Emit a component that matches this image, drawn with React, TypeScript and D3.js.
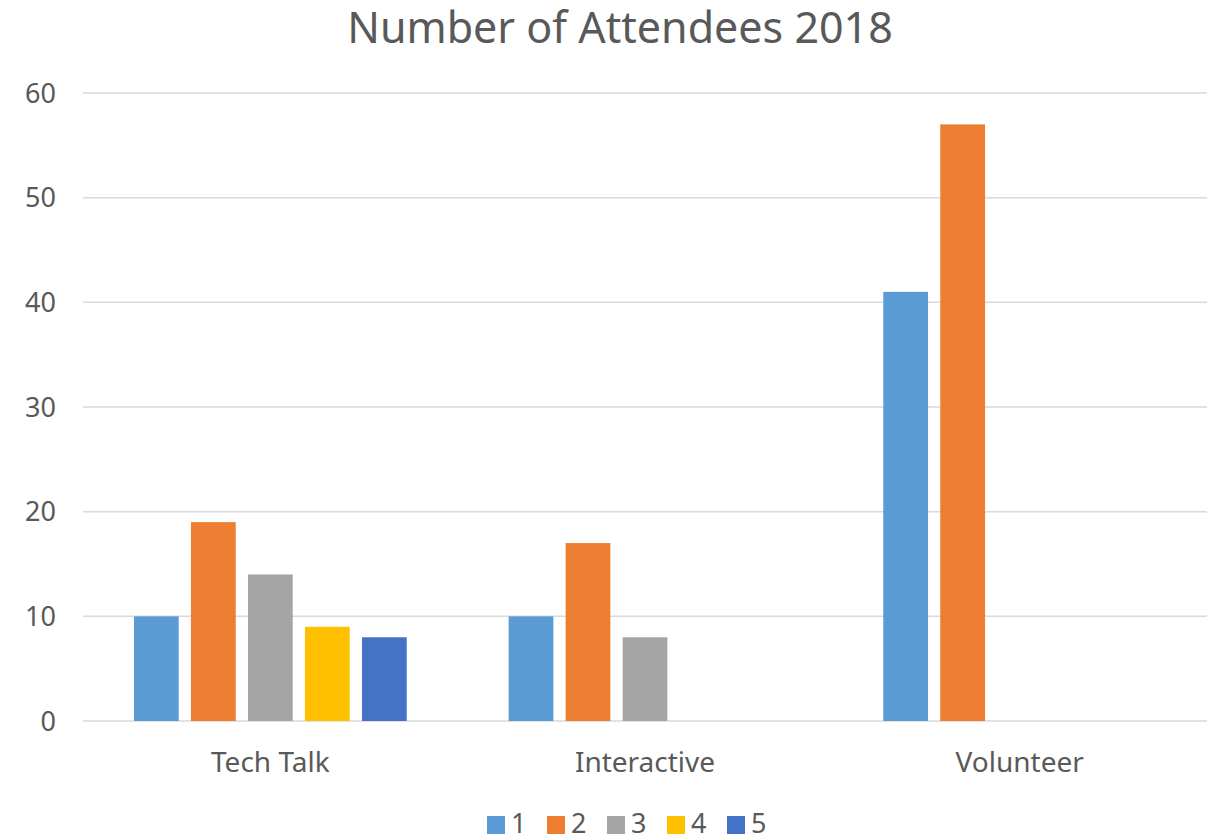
import { useMemo } from "react"
import * as d3 from "d3"

const categories = ["Tech Talk", "Interactive", "Volunteer"]
const seriesNames = ["1", "2", "3", "4", "5"]
// values per series, aligned with categories (null = no bar)
const series1 = [10, 10, 41]
const series2 = [19, 17, 57]
const series3 = [14, 8, null]
const series4 = [9, null, null]
const series5 = [8, null, null]
const yTicks = [0, 10, 20, 30, 40, 50, 60]
const colors = ["#5B9BD5", "#ED7D31", "#A5A5A5", "#FFC000", "#4472C4"]

const allSeries = [series1, series2, series3, series4, series5]

const W = 1215
const H = 836
const margin = { top: 93, right: 8, bottom: 115, left: 83 }
const font = "'Noto Sans', 'Open Sans', sans-serif"
const textColor = "#595959"

export default function App() {
  const innerW = W - margin.left - margin.right
  const innerH = H - margin.top - margin.bottom

  const x0 = useMemo(() => d3.scaleBand<string>().domain(categories).range([0, innerW]).padding(0), [innerW])
  const x1 = useMemo(() => {
    const bw = x0.bandwidth()
    return d3
      .scaleBand<string>()
      .domain(seriesNames)
      .range([bw * 0.136, bw * 0.864])
      .paddingInner(0.215)
      .paddingOuter(0)
  }, [x0])
  const y = useMemo(() => d3.scaleLinear().domain([0, 60]).range([innerH, 0]), [innerH])

  const legendStep = 60
  const legendStart = 487

  return (
    <div style={{ position: "absolute", top: 0, left: 0 }}>
      <svg width={W} height={H} style={{ display: "block", background: "#fff" }}>
        {/* Title */}
        <text x={620} y={43} textAnchor="middle" fontFamily={font} fontSize={43} fill={textColor}>
          Number of Attendees 2018
        </text>

        <g transform={`translate(${margin.left},${margin.top})`}>
          {/* Gridlines */}
          {yTicks.map((t) => (
            <line key={t} x1={0} x2={innerW} y1={y(t)} y2={y(t)} stroke="#D9D9D9" strokeWidth={1.5} />
          ))}
          {/* Y labels */}
          {yTicks.map((t) => (
            <text
              key={"l" + t}
              x={-27}
              y={y(t)}
              dy="0.36em"
              textAnchor="end"
              fontFamily={font}
              fontSize={27}
              fill={textColor}
            >
              {t}
            </text>
          ))}

          {/* Bars */}
          {categories.map((c, ci) => (
            <g key={c} transform={`translate(${x0(c)},0)`}>
              {allSeries.map((s, si) => {
                const v = s[ci]
                if (v == null) return null
                return (
                  <rect
                    key={si}
                    x={x1(seriesNames[si])}
                    y={y(v)}
                    width={x1.bandwidth()}
                    height={y(0) - y(v)}
                    fill={colors[si]}
                  />
                )
              })}
            </g>
          ))}

          {/* Category labels */}
          {categories.map((c) => (
            <text
              key={"c" + c}
              x={(x0(c) ?? 0) + x0.bandwidth() / 2}
              y={innerH + 51}
              textAnchor="middle"
              fontFamily={font}
              fontSize={28}
              fill={textColor}
            >
              {c}
            </text>
          ))}
        </g>

        {/* Legend */}
        {seriesNames.map((n, i) => (
          <g key={n} transform={`translate(${legendStart + i * legendStep},816)`}>
            <rect width={18} height={18} fill={colors[i]} />
            <text x={24} y={17} fontFamily={font} fontSize={27} fill={textColor}>
              {n}
            </text>
          </g>
        ))}
      </svg>
    </div>
  )
}
